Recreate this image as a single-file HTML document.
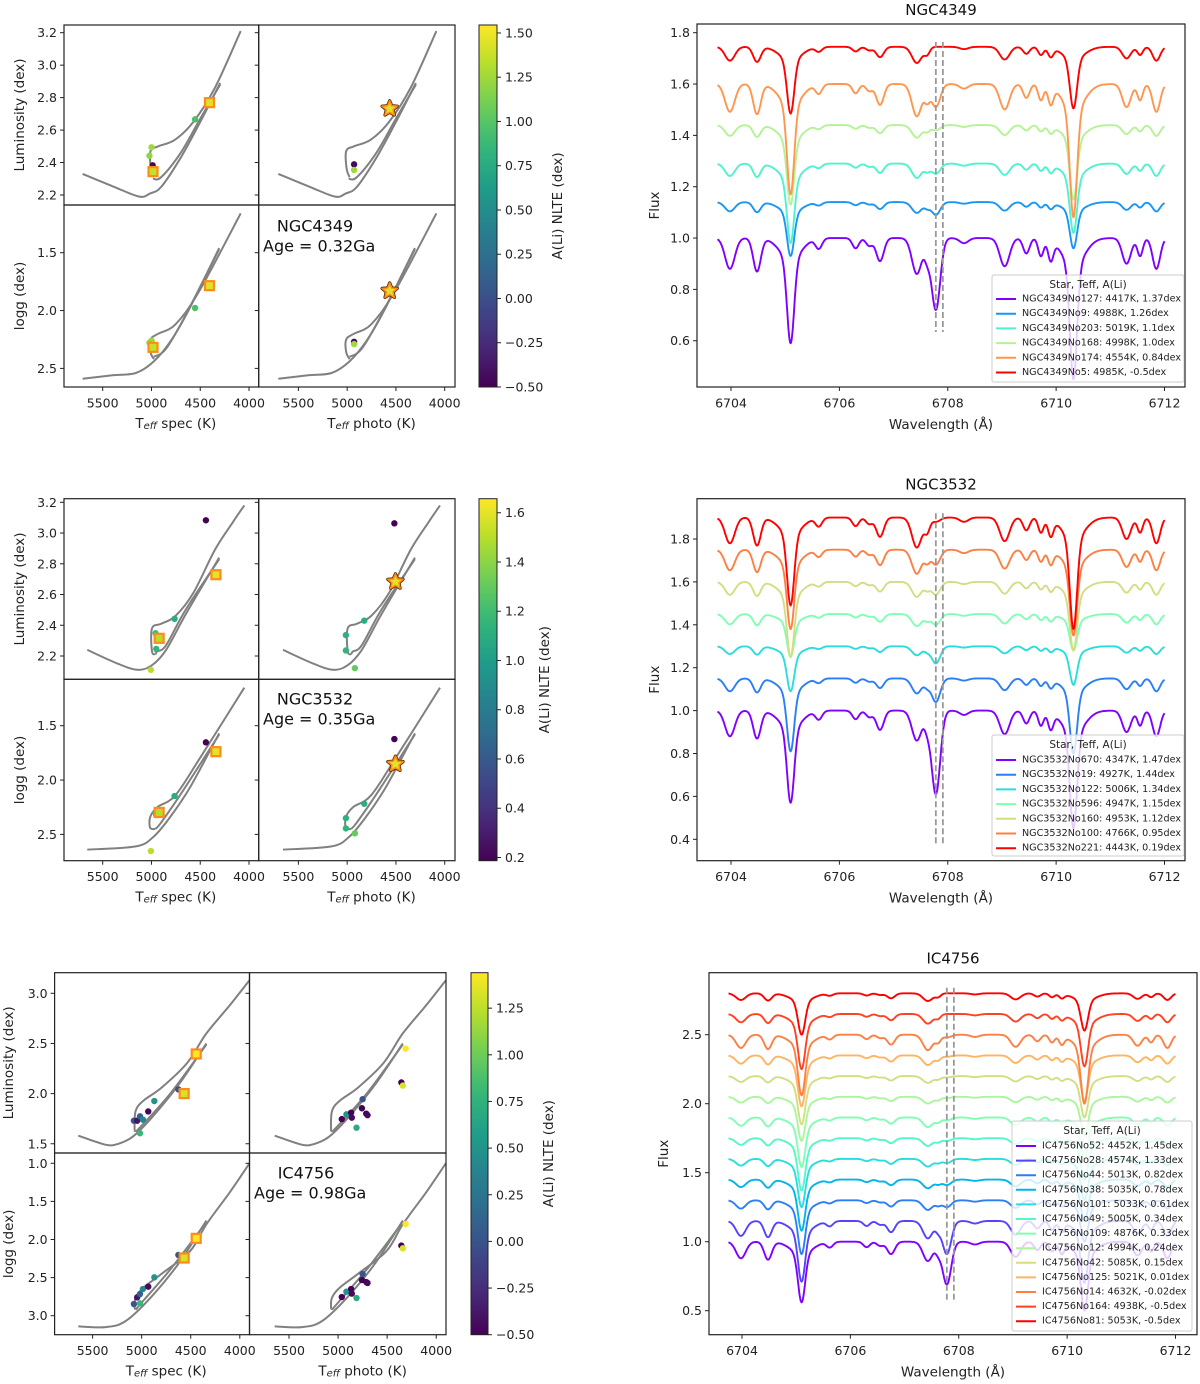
<!DOCTYPE html>
<html><head><meta charset="utf-8">
<style>
html,body{margin:0;padding:0;background:#fff;}
svg{display:block;font-family:"DejaVu Sans","Liberation Sans",sans-serif;}
</style></head>
<body>
<svg id="fig" xmlns="http://www.w3.org/2000/svg" width="1200" height="1384" viewBox="0 0 1200 1384"></svg>
<script>
// ===================== DATA =====================
const iso1LumA=[[5706,2.33],[5382,2.25],[5124,2.19],[5013,2.21],[4900,2.25],[4700,2.43],[4500,2.65],[4295,2.89]];
const iso1LumB=[[4985,2.30],[4900,2.31],[4700,2.46],[4500,2.67],[4295,2.88]];
const iso1LumC=[[4975,2.31],[5005,2.36],[5010,2.47],[4930,2.50],[4760,2.54],[4571,2.65],[4350,2.86],[4085,3.21]];
const iso1GA=[[5706,2.59],[5400,2.56],[5161,2.54],[4977,2.44],[4800,2.26],[4608,1.98],[4306,1.46]];
const iso1GB=[[4975,2.40],[4850,2.33],[4650,2.04],[4306,1.47]];
const iso1GC=[[4975,2.42],[5010,2.36],[5010,2.25],[4930,2.20],[4755,2.12],[4516,1.84],[4085,1.16]];

const iso2LumA=[[5658,2.24],[5345,2.15],[5142,2.11],[4995,2.14],[4850,2.24],[4650,2.47],[4306,2.84]];
const iso2LumB=[[4960,2.21],[4940,2.23],[4850,2.27],[4650,2.50],[4306,2.83]];
const iso2LumC=[[4960,2.21],[4995,2.23],[4995,2.38],[4900,2.41],[4755,2.46],[4571,2.61],[4350,2.89],[4166,3.07],[4048,3.18]];
const iso2GA=[[5658,2.64],[5161,2.61],[4977,2.52],[4800,2.33],[4600,2.06],[4306,1.57]];
const iso2GB=[[4960,2.45],[4900,2.39],[4700,2.13],[4306,1.58]];
const iso2GC=[[4960,2.45],[5013,2.44],[5013,2.34],[4940,2.25],[4755,2.14],[4497,1.79],[4048,1.15]];

const iso3LumA=[[5646,1.58],[5365,1.49],[5237,1.50],[5091,1.57],[4907,1.75],[4615,2.10],[4340,2.50]];
const iso3LumB=[[5061,1.62],[4981,1.70],[4700,2.01],[4340,2.49]];
const iso3LumC=[[5061,1.62],[5072,1.65],[5061,1.83],[4981,1.93],[4797,2.06],[4541,2.30],[4340,2.60],[4102,2.88],[3901,3.13]];
const iso3GA=[[5646,3.14],[5365,3.15],[5163,3.07],[4907,2.76],[4615,2.30],[4340,1.75]];
const iso3GB=[[5061,2.92],[4981,2.80],[4700,2.38],[4340,1.77]];
const iso3GC=[[5061,2.92],[5072,2.89],[5061,2.76],[4981,2.63],[4797,2.45],[4505,2.15],[4340,1.80],[4102,1.38],[3901,1.0]];

const n1SpecT=[4553,4999,5021,4988], n1SpecL=[2.666,2.494,2.442,2.383], n1SpecG=[1.978,2.26,2.278,2.30], n1SpecA=[0.95,1.25,1.2,-0.45];
const n1SqT=[4984,4405], n1SqL=[2.344,2.769], n1SqG=[2.318,1.785], n1SqA=[1.37,1.45];
const n1PhT=[4929,4929], n1PhL=[2.389,2.354], n1PhG=[2.27,2.29], n1PhA=[-0.45,1.25];
const n1StT=[4564], n1StL=[2.732], n1StG=[1.83], n1StA=[1.45];

const n2SpecT=[4442,4763,4958,4951,5006], n2SpecL=[3.083,2.442,2.348,2.246,2.11], n2SpecG=[1.653,2.147,2.30,2.322,2.653], n2SpecA=[0.19,1.1,1.2,1.15,1.5];
const n2SqT=[4921,4339], n2SqL=[2.315,2.729], n2SqG=[2.298,1.739], n2SqA=[1.5,1.6];
const n2PhT=[4516,4825,5013,5013,4921], n2PhL=[3.063,2.43,2.336,2.236,2.121], n2PhG=[1.623,2.218,2.35,2.445,2.49], n2PhA=[0.19,1.1,1.12,1.15,1.3];
const n2StT=[4505], n2StL=[2.683], n2StG=[1.853], n2StA=[1.6];

const n3SpecT=[5079,5046,5017,4987,4933,4871,5017,4626], n3SpecL=[1.73,1.73,1.774,1.74,1.822,1.926,1.605,2.042], n3SpecG=[2.847,2.759,2.716,2.65,2.619,2.497,2.838,2.203], n3SpecA=[0.0,-0.4,0.1,0.4,-0.45,0.5,0.8,0.01];
const n3SqT=[4567,4444], n3SqL=[2.0,2.395], n3SqG=[2.243,1.985], n3SqA=[1.33,1.45];
const n3PhT=[4962,4915,4867,4860,4750,4757,4713,4700,4812,4355,4340,4311], n3PhL=[1.746,1.793,1.81,1.76,1.944,1.854,1.80,1.785,1.66,2.111,2.08,2.448], n3PhG=[2.755,2.685,2.65,2.71,2.453,2.532,2.558,2.57,2.768,2.08,2.116,1.796], n3PhA=[-0.5,0.5,-0.5,-0.45,0.01,-0.5,-0.5,-0.45,0.7,-0.5,1.33,1.45];
const n3StT=[], n3StL=[], n3StG=[], n3StA=[];

const cb1Ticks=[-0.5,-0.25,0,0.25,0.5,0.75,1.0,1.25,1.5];
const cb2Ticks=[0.2,0.4,0.6,0.8,1.0,1.2,1.4,1.6];
const cb3Ticks=[-0.5,-0.25,0,0.25,0.5,0.75,1.0,1.25];
const teffTicks=[5500,5000,4500,4000];

// kinds: 0 weak, 1 strong1 core, 2 strong2 core, 3 Li, 4 strong1 wing, 5 strong2 wing
const lineCenters=[6703.98,6704.48,6705.10,6705.10,6705.62,6706.30,6706.55,6706.75,6707.43,6707.62,6707.78,6708.30,6709.05,6709.45,6709.72,6709.90,6710.32,6710.32,6711.30,6711.55,6711.85];
const lineDepths=[0.12,0.13,0.41,0.41,0.04,0.04,0.03,0.09,0.14,0.06,0.30,0.02,0.11,0.06,0.07,0.08,0.50,0.50,0.10,0.07,0.12];
const lineWidths=[0.09,0.07,0.065,0.2,0.06,0.06,0.06,0.07,0.09,0.05,0.08,0.08,0.09,0.06,0.05,0.05,0.065,0.2,0.08,0.05,0.07];
const lineKinds=[0,0,1,4,0,0,0,0,0,0,3,0,0,0,0,0,2,5,0,0,0];

const s1Names=["NGC4349No127: 4417K, 1.37dex","NGC4349No9: 4988K, 1.26dex","NGC4349No203: 5019K, 1.1dex","NGC4349No168: 4998K, 1.0dex","NGC4349No174: 4554K, 0.84dex","NGC4349No5: 4985K, -0.5dex"];
const s1Cont=[1.0,1.14,1.29,1.44,1.60,1.745];
const s1Weak=[1.0,0.3,0.4,0.35,0.9,0.45];
const s1D1=[0.41,0.21,0.31,0.31,0.43,0.26];
const s1D2=[0.55,0.18,0.27,0.29,0.52,0.24];
const s1Li=[0.28,0.05,0.04,0.02,0.09,0.0];

const s2Names=["NGC3532No670: 4347K, 1.47dex","NGC3532No19: 4927K, 1.44dex","NGC3532No122: 5006K, 1.34dex","NGC3532No596: 4947K, 1.15dex","NGC3532No160: 4953K, 1.12dex","NGC3532No100: 4766K, 0.95dex","NGC3532No221: 4443K, 0.19dex"];
const s2Cont=[1.0,1.15,1.30,1.45,1.60,1.75,1.90];
const s2Weak=[1.0,0.5,0.3,0.4,0.5,0.8,1.0];
const s2D1=[0.43,0.34,0.21,0.20,0.35,0.37,0.41];
const s2D2=[0.55,0.35,0.18,0.17,0.32,0.40,0.52];
const s2Li=[0.39,0.11,0.08,0.05,0.06,0.07,0.02];

const s3Names=["IC4756No52: 4452K, 1.45dex","IC4756No28: 4574K, 1.33dex","IC4756No44: 5013K, 0.82dex","IC4756No38: 5035K, 0.78dex","IC4756No101: 5033K, 0.61dex","IC4756No49: 5005K, 0.34dex","IC4756No109: 4876K, 0.33dex","IC4756No12: 4994K, 0.24dex","IC4756No42: 5085K, 0.15dex","IC4756No125: 5021K, 0.01dex","IC4756No14: 4632K, -0.02dex","IC4756No164: 4938K, -0.5dex","IC4756No81: 5053K, -0.5dex"];
const s3Cont=[1.0,1.15,1.30,1.45,1.60,1.75,1.90,2.05,2.20,2.35,2.50,2.65,2.80];
const s3Weak=[1.0,0.9,0.5,0.45,0.4,0.4,0.5,0.35,0.35,0.5,0.8,0.5,0.4];
const s3D1=[0.44,0.44,0.39,0.37,0.35,0.38,0.36,0.32,0.35,0.37,0.44,0.40,0.30];
const s3D2=[0.50,0.45,0.30,0.30,0.30,0.30,0.30,0.28,0.30,0.33,0.50,0.38,0.27];
const s3Li=[0.31,0.24,0.05,0.04,0.03,0.02,0.02,0.01,0.01,0.01,0.02,0.0,0.0];
const liMarks=[6707.78,6707.91];

// ===================== HELPERS =====================
const NS="http://www.w3.org/2000/svg";
const svg=document.getElementById('fig');
function mk(tag,attrs,parent){const e=document.createElementNS(NS,tag);for(const k in attrs)e.setAttribute(k,attrs[k]);(parent||svg).appendChild(e);return e;}
function txt(s,attrs,parent){const e=mk('text',attrs,parent);e.textContent=s;return e;}
const VIR=["#440154","#482878","#3e4989","#31688e","#26828e","#1f9e89","#35b779","#6ece58","#b5de2b","#fde725"];
function hex2rgb(h){return [parseInt(h.substr(1,2),16),parseInt(h.substr(3,2),16),parseInt(h.substr(5,2),16)];}
function viridis(t){t=Math.max(0,Math.min(1,t));const p=t*(VIR.length-1);const i=Math.min(VIR.length-2,Math.floor(p));const f=p-i;const a=hex2rgb(VIR[i]),b=hex2rgb(VIR[i+1]);return 'rgb('+a.map((v,k)=>Math.round(v+(b[k]-v)*f)).join(',')+')';}
function rainbow(x){const r=Math.min(1,Math.abs(2*x-0.5)),g=Math.sin(Math.PI*x),b=Math.cos(Math.PI*x/2);return 'rgb('+[r,g,b].map(v=>Math.round(Math.max(0,v)*255)).join(',')+')';}
function fmt(v,d){const s=Math.abs(v).toFixed(d);return (v<-1e-9?'\u2212':'')+s;}
function smoothPath(p){ // catmull-rom
  let d='M'+p[0][0].toFixed(1)+','+p[0][1].toFixed(1);
  for(let i=0;i<p.length-1;i++){
    const p0=p[Math.max(0,i-1)],p1=p[i],p2=p[i+1],p3=p[Math.min(p.length-1,i+2)];
    const c1=[p1[0]+(p2[0]-p0[0])/6,p1[1]+(p2[1]-p0[1])/6],c2=[p2[0]-(p3[0]-p1[0])/6,p2[1]-(p3[1]-p1[1])/6];
    d+=' C'+c1[0].toFixed(1)+','+c1[1].toFixed(1)+' '+c2[0].toFixed(1)+','+c2[1].toFixed(1)+' '+p2[0].toFixed(1)+','+p2[1].toFixed(1);
  }
  return d;
}

// ===================== HR FIGURE =====================
function hr(cfg){
  const g=mk('g',{});
  
  
  const b=cfg.box;
  const tx=(T,right)=>cfg.tx0+(5500-T)*cfg.kx+(right?cfg.roff:0);
  const yl=L=>cfg.ly0+(cfg.lv0-L)*cfg.lk;
  const yg=G=>cfg.gy0+(G-cfg.gv0)*cfg.gk;
  const col=v=>viridis((v-cfg.vmin)/(cfg.vmax-cfg.vmin));
  const defs=mk('defs',{},g);
  const quads=[[b.x0,b.y0,b.xm,b.ym],[b.xm,b.y0,b.x1,b.ym],[b.x0,b.ym,b.xm,b.y1],[b.xm,b.ym,b.x1,b.y1]];
  quads.forEach((q,i)=>{const cp=mk('clipPath',{id:cfg.id+'clip'+i},defs);mk('rect',{x:q[0],y:q[1],width:q[2]-q[0],height:q[3]-q[1]},cp);});
  const panels=[{right:false,lum:true},{right:true,lum:true},{right:false,lum:false},{right:true,lum:false}];
  panels.forEach((p,i)=>{
    const pg=mk('g',{'clip-path':'url(#'+cfg.id+'clip'+i+')'},g);
    
    
    const isos=p.lum?cfg.isoL:cfg.isoG;
    isos.forEach(arr=>{
      const pts=arr.map(d=>[tx(d[0],p.right),(p.lum?yl(d[1]):yg(d[1]))]);
      const pl=mk('path',{d:smoothPath(pts),fill:'none',stroke:'#808080','stroke-width':2,'stroke-linejoin':'round'},pg);
      
      
    });
    const P=p.right?cfg.ph:cfg.sp;
    P.T.forEach((T,k)=>{
      const c=mk('circle',{cx:tx(T,p.right),cy:p.lum?yl(P.L[k]):yg(P.G[k]),r:3.2,fill:col(P.A[k])},pg);
      
      
    });
    if(!p.right){
      cfg.sq.T.forEach((T,k)=>{
        const x=tx(T,false),y=p.lum?yl(cfg.sq.L[k]):yg(cfg.sq.G[k]);
        const r=mk('rect',{x:x-4.5,y:y-4.5,width:9,height:9,fill:col(cfg.sq.A[k]),stroke:'#ff8c1a','stroke-width':2.2},pg);
        
        
      });
    } else {
      cfg.st.T.forEach((T,k)=>{
        const x=tx(T,true),y=p.lum?yl(cfg.st.L[k]):yg(cfg.st.G[k]);
        let pts=[];for(let j=0;j<10;j++){const a=-Math.PI/2+j*Math.PI/5;const rr=j%2?3.6:8;pts.push((x+rr*Math.cos(a)).toFixed(1)+','+(y+rr*Math.sin(a)).toFixed(1));}
        mk('polygon',{points:pts.join(' '),fill:'none',stroke:'#5a2a00','stroke-width':3.2,'stroke-linejoin':'round'},pg);
        const s=mk('polygon',{points:pts.join(' '),fill:col(cfg.st.A[k]),stroke:'#ff8c1a','stroke-width':1.6,'stroke-linejoin':'round'},pg);
        
        
      });
    }
  });
  quads.forEach(q=>mk('rect',{x:q[0],y:q[1],width:q[2]-q[0],height:q[3]-q[1],fill:'none',stroke:'#222','stroke-width':1.2},g));
  const ticksG=mk('g',{'font-size':12.5,fill:'#222'},g);
  cfg.lumTicks.forEach(v=>{const y=yl(v);
    mk('line',{x1:b.x0-4,x2:b.x0,y1:y,y2:y,stroke:'#222'},ticksG);mk('line',{x1:b.xm-4,x2:b.xm,y1:y,y2:y,stroke:'#222'},ticksG);
    const t=txt(v.toFixed(1),{x:b.x0-7,y:y,'text-anchor':'end','dominant-baseline':'central'},ticksG);
    });
  cfg.gTicks.forEach(v=>{const y=yg(v);
    mk('line',{x1:b.x0-4,x2:b.x0,y1:y,y2:y,stroke:'#222'},ticksG);mk('line',{x1:b.xm-4,x2:b.xm,y1:y,y2:y,stroke:'#222'},ticksG);
    const t=txt(v.toFixed(1),{x:b.x0-7,y:y,'text-anchor':'end','dominant-baseline':'central'},ticksG);
    });
  [false,true].forEach(r=>teffTicks.forEach(T=>{const x=tx(T,r);
    mk('line',{x1:x,x2:x,y1:b.y1,y2:b.y1+4,stroke:'#222'},ticksG);
    const t=txt(String(T),{x:x,y:b.y1+16,'text-anchor':'middle','dominant-baseline':'central'},ticksG);
    }));
  const lab=mk('g',{'font-size':13.5,fill:'#222'},g);
  let t=txt('Luminosity (dex)',{x:cfg.ylx,y:(b.y0+b.ym)/2,'text-anchor':'middle','dominant-baseline':'central',transform:'rotate(-90 '+cfg.ylx+' '+(b.y0+b.ym)/2+')'},lab);
  
  t=txt('logg (dex)',{x:cfg.ylx,y:(b.ym+b.y1)/2,'text-anchor':'middle','dominant-baseline':'central',transform:'rotate(-90 '+cfg.ylx+' '+(b.ym+b.y1)/2+')'},lab);
  
  [['spec',false],['photo',true]].forEach(([w,r])=>{
    const cx=(tx(5500,r)+tx(4000,r))/2;
    const e=mk('text',{x:cx,y:b.y1+37,'text-anchor':'middle','dominant-baseline':'central'},lab);
    
    const a=mk('tspan',{},e);a.textContent='T';
    const s=mk('tspan',{'font-size':10,'font-style':'italic',dy:2},e);s.textContent='eff';
    const c=mk('tspan',{dy:-2},e);c.textContent=' '+w+' (K)';
  });
  t=txt(cfg.name,{x:cfg.annX,y:cfg.annY,'text-anchor':'middle','dominant-baseline':'central','font-size':16,fill:'#111'},g);
  
  t=txt(cfg.age,{x:cfg.ageX,y:cfg.annY+20,'dominant-baseline':'central','font-size':16,fill:'#111'},g);
  
  const gid=cfg.id+'grad';
  const lg=mk('linearGradient',{id:gid,x1:0,y1:1,x2:0,y2:0},defs);
  for(let i=0;i<=20;i++)mk('stop',{offset:(i/20),'stop-color':viridis(i/20)},lg);
  const cb=mk('rect',{x:cfg.cbx0,y:b.y0,width:cfg.cbx1-cfg.cbx0,height:b.y1-b.y0,fill:'url(#'+gid+')',stroke:'#222','stroke-width':1},g);
  
  const cy=v=>b.y1-(v-cfg.vmin)/(cfg.vmax-cfg.vmin)*(b.y1-b.y0);
  cfg.cbTicks.forEach(v=>{const y=cy(v);mk('line',{x1:cfg.cbx1,x2:cfg.cbx1+4,y1:y,y2:y,stroke:'#222'},g);
    const e=txt(fmt(v,cfg.cbDec),{x:cfg.cbx1+8,y:y,'dominant-baseline':'central','font-size':12.5,fill:'#222'},g);
    });
  const my=(b.y0+b.y1)/2;
  t=txt('A(Li) NLTE (dex)',{x:cfg.cblx,y:my,'text-anchor':'middle','dominant-baseline':'central','font-size':13.5,fill:'#222',transform:'rotate(-90 '+cfg.cblx+' '+my+')'},g);
  
}

hr({id:'ngc4349',name:'NGC4349',age:'Age = 0.32Ga',box:{x0:64,xm:258.7,x1:455,y0:25,ym:205,y1:387},
  tx0:102.7,kx:146.3/1500,roff:195.7,lv0:3.2,ly0:32.7,lk:162.3,gv0:1.5,gy0:252.7,gk:115.7,
  lumTicks:[2.2,2.4,2.6,2.8,3.0,3.2],gTicks:[1.5,2.0,2.5],
  isoL:[iso1LumA,iso1LumB,iso1LumC],isoG:[iso1GA,iso1GB,iso1GC],
  sp:{T:n1SpecT,L:n1SpecL,G:n1SpecG,A:n1SpecA},sq:{T:n1SqT,L:n1SqL,G:n1SqG,A:n1SqA},
  ph:{T:n1PhT,L:n1PhL,G:n1PhG,A:n1PhA},st:{T:n1StT,L:n1StL,G:n1StG,A:n1StA},
  vmin:-0.5,vmax:1.545,cbTicks:cb1Ticks,cbDec:2,cbx0:479,cbx1:497,cblx:558,ylx:20,
  annX:315,ageX:263,annY:226});
hr({id:'ngc3532',name:'NGC3532',age:'Age = 0.35Ga',box:{x0:64,xm:258.7,x1:455,y0:498.7,ym:679.3,y1:860.7},
  tx0:102.7,kx:146.3/1500,roff:195.7,lv0:3.2,ly0:502.3,lk:153.7,gv0:1.5,gy0:725.7,gk:108.7,
  lumTicks:[2.2,2.4,2.6,2.8,3.0,3.2],gTicks:[1.5,2.0,2.5],
  isoL:[iso2LumA,iso2LumB,iso2LumC],isoG:[iso2GA,iso2GB,iso2GC],
  sp:{T:n2SpecT,L:n2SpecL,G:n2SpecG,A:n2SpecA},sq:{T:n2SqT,L:n2SqL,G:n2SqG,A:n2SqA},
  ph:{T:n2PhT,L:n2PhL,G:n2PhG,A:n2PhA},st:{T:n2StT,L:n2StL,G:n2StG,A:n2StA},
  vmin:0.187,vmax:1.657,cbTicks:cb2Ticks,cbDec:1,cbx0:479,cbx1:497,cblx:545,ylx:20,
  annX:315,ageX:263,annY:699});
hr({id:'ic4756',name:'IC4756',age:'Age = 0.98Ga',box:{x0:54.6,xm:249.5,x1:446,y0:972.7,ym:1153,y1:1334.7},
  tx0:92.6,kx:147.2/1500,roff:196.4,lv0:3.0,ly0:993.3,lk:100.3,gv0:1.0,gy0:1163.3,gk:76.2,
  lumTicks:[1.5,2.0,2.5,3.0],gTicks:[1.0,1.5,2.0,2.5,3.0],
  isoL:[iso3LumA,iso3LumB,iso3LumC],isoG:[iso3GA,iso3GB,iso3GC],
  sp:{T:n3SpecT,L:n3SpecL,G:n3SpecG,A:n3SpecA},sq:{T:n3SqT,L:n3SqL,G:n3SqG,A:n3SqA},
  ph:{T:n3PhT,L:n3PhL,G:n3PhG,A:n3PhA},st:{T:n3StT,L:n3StL,G:n3StG,A:n3StA},
  vmin:-0.5,vmax:1.44,cbTicks:cb3Ticks,cbDec:2,cbx0:471,cbx1:488,cblx:549,ylx:9,
  annX:306,ageX:254,annY:1173});

// ===================== SPECTRA =====================
function spec(cfg){
  const g=mk('g',{});
  
  
  const b=cfg.box;
  const X=w=>cfg.px0+(w-6704)*(cfg.px1-cfg.px0)/8;
  const Y=f=>cfg.py0+(cfg.fv0-f)*cfg.fk;
  const defs=mk('defs',{},g);
  const cp=mk('clipPath',{id:cfg.id+'sclip'},defs);
  mk('rect',{x:b.x0,y:b.y0,width:b.x1-b.x0,height:b.y1-b.y0},cp);
  const pg=mk('g',{'clip-path':'url(#'+cfg.id+'sclip)'},g);
  const N=cfg.cont.length;
  for(let i=0;i<N;i++){
    let pts=[];
    for(let w=6703.75;w<=6712.0001;w+=0.01){
      let f=cfg.cont[i];
      for(let k=0;k<lineCenters.length;k++){
        const kind=lineKinds[k];
        const d=kind===1?cfg.d1[i]*0.8:kind===2?cfg.d2[i]*0.8:kind===4?cfg.d1[i]*0.2:kind===5?cfg.d2[i]*0.2:kind===3?cfg.li[i]:lineDepths[k]*cfg.weak[i];
        const s=lineWidths[k];const dw=w-lineCenters[k];
        if(Math.abs(dw)<6*s)f-=d*Math.exp(-dw*dw/(2*s*s));
      }
      pts.push(X(w).toFixed(1)+','+Y(f).toFixed(1));
    }
    const pl=mk('polyline',{points:pts.join(' '),fill:'none',stroke:rainbow(N>1?i/(N-1):0),'stroke-width':1.9,'stroke-linejoin':'round'},pg);
    
    
  }
  liMarks.forEach(w=>{const l=mk('line',{x1:X(w),x2:X(w),y1:Y(cfg.dash[0]),y2:Y(cfg.dash[1]),stroke:'#999','stroke-width':1.8,'stroke-dasharray':'6,3'},pg);
    });
  const fr=mk('rect',{x:b.x0,y:b.y0,width:b.x1-b.x0,height:b.y1-b.y0,fill:'none',stroke:'#222','stroke-width':1.2},g);
  
  const tg=mk('g',{'font-size':12.5,fill:'#222'},g);
  cfg.yticks.forEach(v=>{const y=Y(v);mk('line',{x1:b.x0-4,x2:b.x0,y1:y,y2:y,stroke:'#222'},tg);
    const t=txt(v.toFixed(1),{x:b.x0-7,y:y,'text-anchor':'end','dominant-baseline':'central'},tg);
    });
  [6704,6706,6708,6710,6712].forEach(w=>{const x=X(w);mk('line',{x1:x,x2:x,y1:b.y1,y2:b.y1+4,stroke:'#222'},tg);
    const t=txt(String(w),{x:x,y:b.y1+16,'text-anchor':'middle','dominant-baseline':'central'},tg);
    });
  let t=txt(cfg.title,{x:(b.x0+b.x1)/2,y:b.y0-14,'text-anchor':'middle','dominant-baseline':'central','font-size':15,fill:'#111'},g);
  
  const my=(b.y0+b.y1)/2;
  t=txt('Flux',{x:cfg.flx,y:my,'text-anchor':'middle','dominant-baseline':'central','font-size':13.5,fill:'#222',transform:'rotate(-90 '+cfg.flx+' '+my+')'},g);
  
  t=txt('Wavelength (\u00C5)',{x:(b.x0+b.x1)/2,y:b.y1+38,'text-anchor':'middle','dominant-baseline':'central','font-size':13.5,fill:'#222'},g);
  
  const L=cfg.leg;
  const lg=mk('g',{},g);
  
  mk('rect',{x:L.x0,y:L.y0,width:L.x1-L.x0,height:L.y1-L.y0,rx:2,fill:'#fff','fill-opacity':0.8,stroke:'#ccc','stroke-width':1},lg);
  txt('Star, Teff, A(Li)',{x:(L.x0+L.x1)/2,y:L.y0+10,'text-anchor':'middle','dominant-baseline':'central','font-size':10.5,fill:'#222'},lg);
  cfg.names.forEach((n,i)=>{const y=L.e0+i*L.dy;
    const c=rainbow(N>1?i/(N-1):0);
    mk('line',{x1:L.x0+4,x2:L.x0+24,y1:y,y2:y,stroke:c,'stroke-width':2},lg);
    const e=txt(n,{x:L.x0+30,y:y,'dominant-baseline':'central','font-size':9.6,fill:'#222'},lg);
    });
}
spec({id:'ngc4349',title:'NGC4349',box:{x0:697,x1:1185,y0:24,y1:387},px0:731,px1:1164.5,fv0:1.8,py0:32.7,fk:256.7,
  yticks:[0.6,0.8,1.0,1.2,1.4,1.6,1.8],dash:[1.764,0.634],flx:655,
  cont:s1Cont,weak:s1Weak,d1:s1D1,d2:s1D2,li:s1Li,names:s1Names,
  leg:{x0:992,x1:1184,y0:275,y1:382,e0:299,dy:14.7}});
spec({id:'ngc3532',title:'NGC3532',box:{x0:697,x1:1185,y0:498.7,y1:860.7},px0:731,px1:1164.5,fv0:1.8,py0:539,fk:214.5,
  yticks:[0.4,0.6,0.8,1.0,1.2,1.4,1.6,1.8],dash:[1.92,0.38],flx:655,
  cont:s2Cont,weak:s2Weak,d1:s2D1,d2:s2D2,li:s2Li,names:s2Names,
  leg:{x0:992,x1:1184,y0:735,y1:856,e0:760,dy:14.7}});
spec({id:'ic4756',title:'IC4756',box:{x0:709,x1:1197,y0:972.7,y1:1334.7},px0:742,px1:1175.5,fv0:2.5,py0:1034.7,fk:138,
  yticks:[0.5,1.0,1.5,2.0,2.5],dash:[2.84,0.58],flx:664,
  cont:s3Cont,weak:s3Weak,d1:s3D1,d2:s3D2,li:s3Li,names:s3Names,
  leg:{x0:1012,x1:1192,y0:1121,y1:1331,e0:1146,dy:14.6}});
</script>
</body></html>
